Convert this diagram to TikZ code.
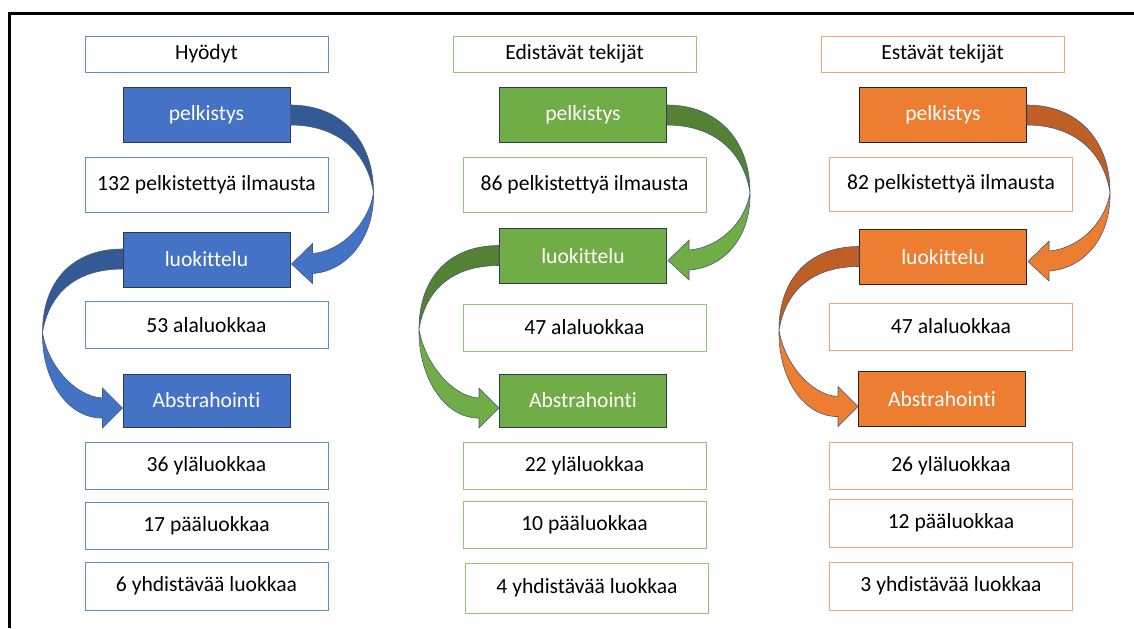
\documentclass[tikz,border=0pt]{standalone}
\usepackage{fontspec}
\setmainfont{Carlito}[Ligatures=NoCommon]
\usepackage{tikz}
\usetikzlibrary{calc}

\definecolor{blueA}{HTML}{4472C4}
\definecolor{blueB}{HTML}{345A96}
\definecolor{blueC}{HTML}{5A8AD0}
\definecolor{greenA}{HTML}{70AD47}
\definecolor{greenB}{HTML}{548235}
\definecolor{greenC}{HTML}{92C66F}
\definecolor{orangeA}{HTML}{ED7D31}
\definecolor{orangeB}{HTML}{BF5F25}
\definecolor{orangeC}{HTML}{F4A46A}
\definecolor{boxedge}{HTML}{2B3A55}
\definecolor{arrowedge}{HTML}{4A5A78}

% curved arrow on the right side: from #1 down to #2
\newcommand{\rightbend}[4]{%
\fill[#3, draw=arrowedge, line width=0.3pt]
  ($(#1.east)+(0,-9.5)$) .. controls ($(#1.east)+(50,-9.5)$) and ($(#1.east)+(83,25)$) .. ($(#1.east)+(83,78)$)
  .. controls ($(#1.east)+(76,35)$) and ($(#1.east)+(45,10.5)$) .. ($(#1.east)+(0,10.5)$) -- cycle;
\fill[#4, draw=arrowedge, line width=0.3pt]
  ($(#1.east)+(83,78)$) .. controls ($(#1.east)+(84,125)$) and ($(#2.east)+(55,12)$) .. ($(#2.east)+(22,14)$)
  -- ($(#2.east)+(22,24)$) -- ($(#2.east)+(1,4.5)$) -- ($(#2.east)+(22,-16)$) -- ($(#2.east)+(22,-6)$)
  .. controls ($(#2.east)+(50,-8)$) and ($(#1.east)+(78,110)$) .. ($(#1.east)+(83,78)$) -- cycle;
}
% curved arrow on the left side: from #1 down to #2
\newcommand{\leftbend}[4]{%
\fill[#3, draw=arrowedge, line width=0.3pt]
  ($(#1.west)+(0,-10.5)$) .. controls ($(#1.west)+(-50,-10.5)$) and ($(#1.west)+(-80,22)$) .. ($(#1.west)+(-80,73)$)
  .. controls ($(#1.west)+(-73,32)$) and ($(#1.west)+(-45,9.5)$) .. ($(#1.west)+(0,9.5)$) -- cycle;
\fill[#4, draw=arrowedge, line width=0.3pt]
  ($(#1.west)+(-80,73)$) .. controls ($(#1.west)+(-81,120)$) and ($(#2.west)+(-55,18)$) .. ($(#2.west)+(-20,17.5)$)
  -- ($(#2.west)+(-20,27.5)$) -- ($(#2.west)+(0,7.5)$) -- ($(#2.west)+(-20,-12.5)$) -- ($(#2.west)+(-20,-2.5)$)
  .. controls ($(#2.west)+(-48,-4)$) and ($(#1.west)+(-75,105)$) .. ($(#1.west)+(-80,73)$) -- cycle;
}

\begin{document}
\begin{tikzpicture}[x=0.5pt, y=-0.5pt,
  every node/.style={font=\fontsize{10.8}{12.9}\selectfont, inner sep=0pt},
  headbox/.style={draw=#1, line width=0.5pt, fill=white, minimum width=121.5pt, minimum height=18pt},
  numbox/.style={draw=#1, line width=0.5pt, fill=white, minimum width=121.5pt, minimum height=23.5pt},
  tallbox/.style={numbox=#1, minimum height=27.5pt},
  stepbox/.style={fill=#1, draw=boxedge, line width=0.5pt, text=white, minimum width=83.5pt, minimum height=27.5pt}]
\useasboundingbox (0,0) rectangle (1134,628);
% frame
\draw[line width=1.5pt] (1134,13) -- (9.5,13) -- (9.5,628);

% Hyödyt
\node[headbox=blueC] (head1) at (206.5,54) {Hyödyt};
\node[stepbox=blueA] (pel1) at (206.5,114.5) {pelkistys};
\node[tallbox=blueC] (pk1) at (206.5,184.5) {132 pelkistettyä ilmausta};
\node[stepbox=blueA] (luo1) at (206.5,259.5) {luokittelu};
\node[numbox=blueC] (ala1) at (206.5,325) {53 alaluokkaa};
\node[stepbox=blueA, minimum height=26.5pt] (abs1) at (206.5,400.5) {Abstrahointi};
\node[numbox=blueC] (yla1) at (206.5,466) {36 yläluokkaa};
\node[numbox=blueC] (paa1) at (206.5,525.5) {17 pääluokkaa};
\node[numbox=blueC, minimum height=24pt] (yhd1) at (206.5,586) {6 yhdistävää luokkaa};

% Edistävät tekijät
\node[headbox=greenC] (head2) at (574.5,54) {Edistävät tekijät};
\node[stepbox=greenA] (pel2) at (583,114.5) {pelkistys};
\node[tallbox=greenC] (pk2) at (584.5,184.5) {86 pelkistettyä ilmausta};
\node[stepbox=greenA] (luo2) at (583,256) {luokittelu};
\node[numbox=greenC] (ala2) at (584.5,327.5) {47 alaluokkaa};
\node[stepbox=greenA, minimum height=26.5pt] (abs2) at (583,400.5) {Abstrahointi};
\node[numbox=greenC] (yla2) at (584.5,466) {22 yläluokkaa};
\node[numbox=greenC] (paa2) at (584.5,525) {10 pääluokkaa};
\node[numbox=greenC, minimum height=25pt] (yhd2) at (587,588) {4 yhdistävää luokkaa};

% Estävät tekijät
\node[headbox=orangeC] (head3) at (942.5,54) {Estävät tekijät};
\node[stepbox=orangeA, draw=black!85] (pel3) at (943,114.5) {pelkistys};
\node[tallbox=orangeC, minimum height=27pt] (pk3) at (951,184) {82 pelkistettyä ilmausta};
\node[stepbox=orangeA, draw=black!85] (luo3) at (943,257) {luokittelu};
\node[numbox=orangeC] (ala3) at (951,326.5) {47 alaluokkaa};
\node[stepbox=orangeA, draw=black!85] (abs3) at (942,399) {Abstrahointi};
\node[numbox=orangeC] (yla3) at (951,466) {26 yläluokkaa};
\node[numbox=orangeC, minimum height=24pt] (paa3) at (951,523) {12 pääluokkaa};
\node[numbox=orangeC, minimum height=24pt] (yhd3) at (951,586) {3 yhdistävää luokkaa};

% curved arrows
\rightbend{pel1}{luo1}{blueB}{blueA}
\leftbend{luo1}{abs1}{blueB}{blueA}
\rightbend{pel2}{luo2}{greenB}{greenA}
\leftbend{luo2}{abs2}{greenB}{greenA}
\rightbend{pel3}{luo3}{orangeB}{orangeA}
\leftbend{luo3}{abs3}{orangeB}{orangeA}
\end{tikzpicture}
\end{document}
